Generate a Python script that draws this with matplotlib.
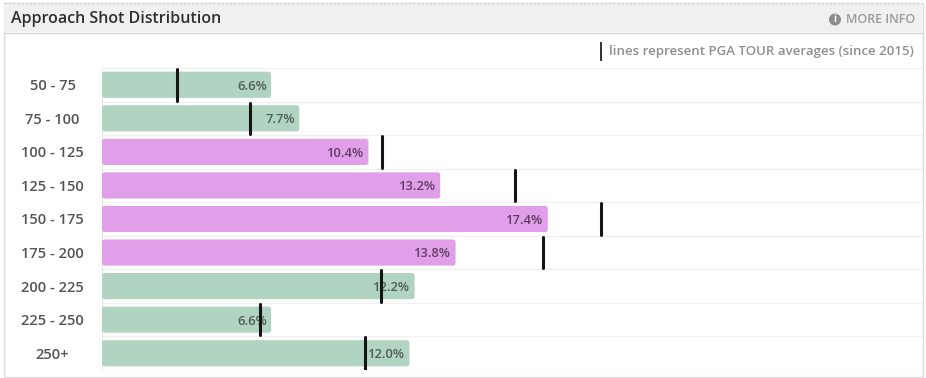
import matplotlib
matplotlib.use('Agg')
import matplotlib.pyplot as plt
from matplotlib.patches import Rectangle, FancyBboxPatch, Circle

plt.rcParams['font.family'] = ['Open Sans', 'DejaVu Sans']

# yardage buckets, player's share and tour average
categories = ['50 - 75', '75 - 100', '100 - 125', '125 - 150', '150 - 175',
              '175 - 200', '200 - 225', '225 - 250', '250+']
player = [6.6, 7.7, 10.4, 13.2, 17.4, 13.8, 12.2, 6.6, 12.0]
tour_avg = [2.93, 5.78, 10.93, 16.12, 19.48, 17.21, 10.89, 6.17, 10.27]
bar_colors = ['#b0d4c1', '#b0d4c1', '#e09fe8', '#e09fe8', '#e09fe8', '#e09fe8',
              '#b0d4c1', '#b0d4c1', '#b0d4c1']

W, H = 926, 378
fig = plt.figure(figsize=(W / 100, H / 100), dpi=100, facecolor='white')

# page furniture, in pixels
bg = fig.add_axes([0, 0, 1, 1])
bg.set_xlim(0, W)
bg.set_ylim(H, 0)
bg.axis('off')
bg.add_patch(Rectangle((3.5, 2.5), 919, 374, fc='white', ec='#dcdcdc', lw=1))
bg.add_patch(Rectangle((4, 3), 918, 29, fc='#f0f0f0', ec='none'))
bg.plot([4, 922], [32.5, 32.5], color='#d8d8d8', lw=1)
bg.plot([4, 922], [2.5, 2.5], color='#d4d4d4', lw=1, ls=(0, (2, 1)))
bg.text(11, 19, 'Approach Shot Distribution', fontsize=11.5, fontweight='semibold',
        color='#2f2f2f', va='center', ha='left')
bg.add_patch(Circle((835, 19.5), 6, fc='#8c8c8c', ec='none'))
bg.text(835, 19.5, 'i', fontsize=7, fontweight='bold', color='white', va='center', ha='center')
bg.text(915, 19.5, 'MORE INFO', fontsize=9, fontweight='semibold', color='#9a9a9a',
        va='center', ha='right')
bg.plot([601, 601], [43, 60], color='#333333', lw=1.4)
bg.text(914, 52, 'lines represent PGA TOUR averages (since 2015)', fontsize=9.5,
        fontweight='semibold', color='#8f8f8f', va='center', ha='right')

# chart
left, right, top, bottom = 102, 922, 68, 370
ax = fig.add_axes([left / W, 1 - bottom / H, (right - left) / W, (bottom - top) / H])
ax.patch.set_alpha(0)
ypos = list(range(len(categories)))
ax.set_xlim(0, (right - left) / 25.62)
ax.set_ylim(len(categories) - 0.5, -0.5)

for i in range(len(categories) + 1):
    ax.axhline(i - 0.5, color='#f0f0f0', lw=1, zorder=0)

for y, val, avg, col in zip(ypos, player, tour_avg, bar_colors):
    ax.add_patch(FancyBboxPatch((0, y - 0.39), val, 0.78, boxstyle='round,pad=0,rounding_size=0.1',
                                mutation_aspect=0.765, fc=col, ec='none', zorder=2))
    ax.text(val - 0.17, y + 0.04, '%.1f%%' % val, fontsize=9.4, fontweight='semibold',
            color='#4f5f58' if col == '#b0d4c1' else '#5f3f66', ha='right', va='center', zorder=3)
    ax.plot([avg, avg], [y - 0.47, y + 0.47], color='#151515', lw=2.2, zorder=4,
            solid_capstyle='round')

ax.set_yticks(ypos)
ax.set_yticklabels(categories, fontsize=10.6, fontweight='semibold', color='#555555', ha='center')
ax.set_xticks([])
ax.tick_params(axis='y', length=0, pad=35.6)
for s in ['top', 'right', 'bottom']:
    ax.spines[s].set_visible(False)
ax.spines['left'].set_color('#e6e6e6')
ax.spines['left'].set_zorder(1)

plt.savefig('out.png', dpi=100)
